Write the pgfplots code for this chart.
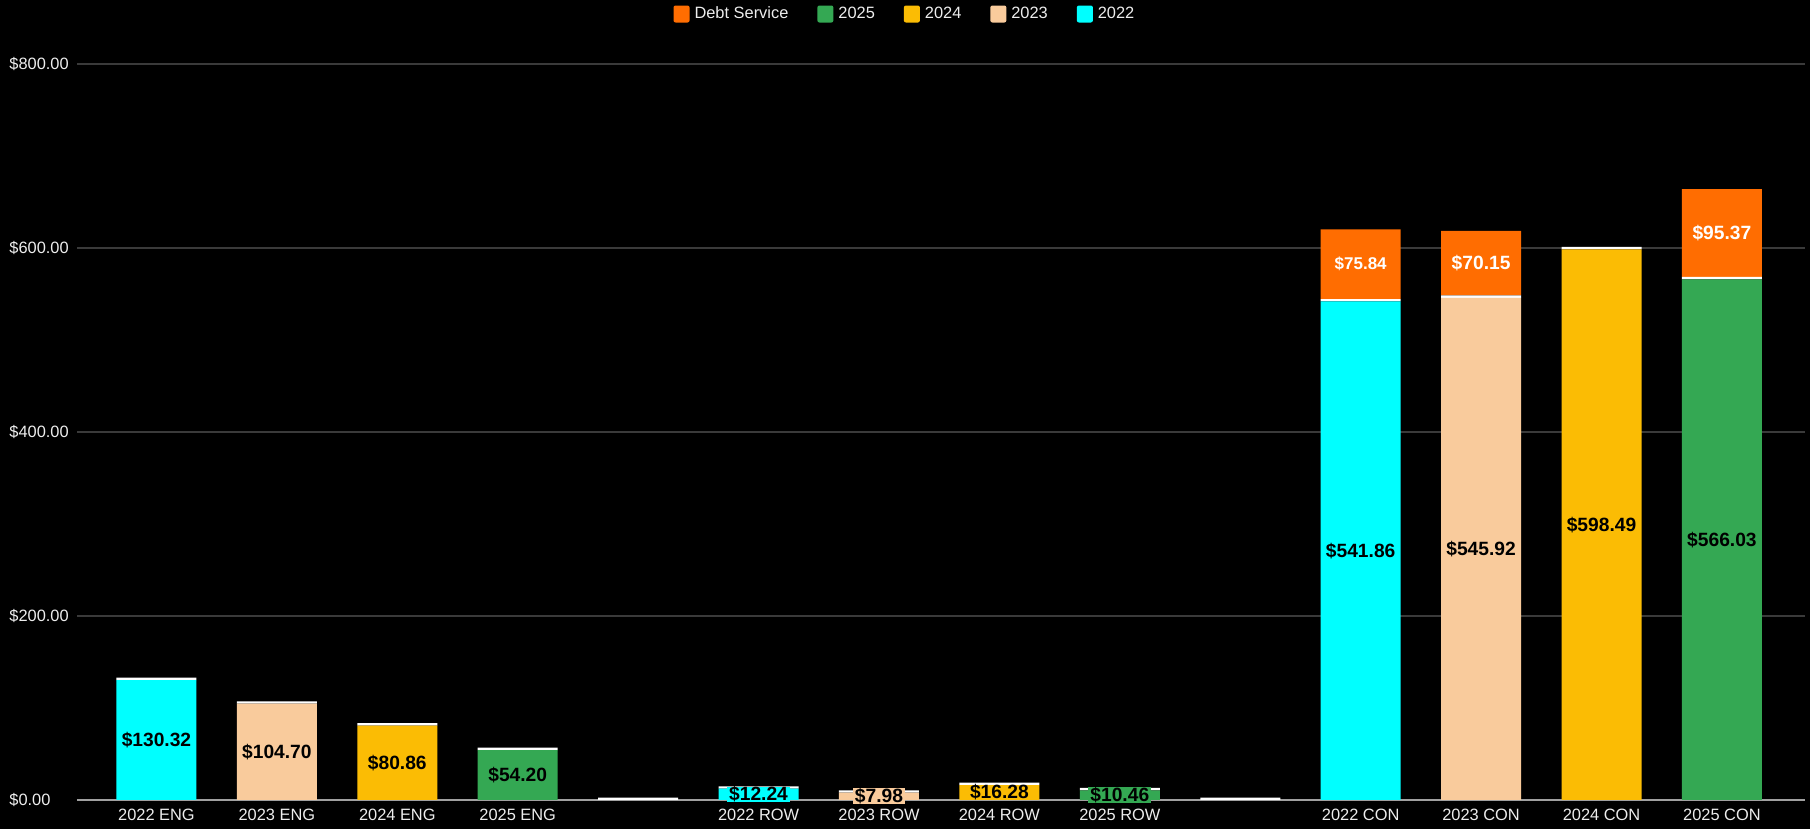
\documentclass[border=0pt]{standalone}
\usepackage{pgfplots}
\pgfplotsset{compat=1.18}
\usepackage{fontspec}
\setmainfont{Liberation Sans}
\definecolor{c22}{HTML}{00FFFF}
\definecolor{c23}{HTML}{F9CB9C}
\definecolor{c24}{HTML}{FBBC04}
\definecolor{c25}{HTML}{34A853}
\definecolor{cds}{HTML}{FF6D01}
\definecolor{gridc}{HTML}{3A3A3A}
\definecolor{basec}{HTML}{A0A0A0}
\definecolor{txt}{HTML}{EDEDED}
\begin{document}
\begin{tikzpicture}
\fill[black] (-38.5pt,-14.5pt) rectangle (866.5pt,400pt);
\begin{axis}[
  at={(0,0)}, anchor=south west,
  scale only axis, width=864pt, height=368pt,
  ybar stacked, bar width=40pt,
  xmin=-0.66, xmax=13.69, ymin=0, ymax=800,
  xtick={0,...,13},
  xticklabels={2022 ENG,2023 ENG,2024 ENG,2025 ENG,,2022 ROW,2023 ROW,2024 ROW,2025 ROW,,2022 CON,2023 CON,2024 CON,2025 CON},
  ytick={0,200,400,600,800},
  yticklabel={\$\pgfmathprintnumber[fixed,fixed zerofill,precision=2]{\tick}},
  /pgf/number format/assume math mode=true,
  yticklabel style={anchor=west, inner sep=0pt, xshift=-34pt, font=\fontsize{8.2}{10}\selectfont, text=txt},
  xticklabel style={font=\fontsize{8.2}{10}\selectfont, text=txt, yshift=-1pt},
  ymajorgrids, grid style={gridc, line width=0.6pt},
  extra y ticks={0}, extra y tick labels={},
  extra y tick style={grid style={basec, line width=0.9pt}},
  axis line style={draw=none}, tick style={draw=none},
  reverse legend,
  legend columns=-1,
  legend style={at={(0.48,1)}, anchor=center, yshift=25pt, draw=none, fill=none,
    text=txt, font=\fontsize{8.2}{10}\selectfont,
    /tikz/every even column/.append style={column sep=12pt},
    nodes={inner xsep=2.5pt}},
  legend image code/.code={\fill[#1, draw=none, rounded corners=1pt] (0pt,-4.25pt) rectangle (8pt,4.25pt);},
  point meta=explicit symbolic,
  nodes near coords,
  every node near coord/.append style={anchor=center, inner xsep=1pt, inner ysep=0pt,
    font=\fontsize{9.6}{11}\selectfont\bfseries},
]
\addplot[fill=c22, draw=none, every node near coord/.append style={fill=c22, text=black}]
  coordinates {(0,130.32)[\$130.32] (1,0)[] (2,0)[] (3,0)[] (4,0)[] (5,12.24)[\$12.24] (6,0)[] (7,0)[] (8,0)[] (9,0)[] (10,541.86)[\$541.86] (11,0)[] (12,0)[] (13,0)[]};
\addlegendentry{2022}
\addplot[fill=c23, draw=none, every node near coord/.append style={fill=c23, text=black}]
  coordinates {(0,0)[] (1,104.70)[\$104.70] (2,0)[] (3,0)[] (4,0)[] (5,0)[] (6,7.98)[\$7.98] (7,0)[] (8,0)[] (9,0)[] (10,0)[] (11,545.92)[\$545.92] (12,0)[] (13,0)[]};
\addlegendentry{2023}
\addplot[fill=c24, draw=none, every node near coord/.append style={fill=c24, text=black}]
  coordinates {(0,0)[] (1,0)[] (2,80.86)[\$80.86] (3,0)[] (4,0)[] (5,0)[] (6,0)[] (7,16.28)[\$16.28] (8,0)[] (9,0)[] (10,0)[] (11,0)[] (12,598.49)[\$598.49] (13,0)[]};
\addlegendentry{2024}
\addplot[fill=c25, draw=none, every node near coord/.append style={fill=c25, text=black}]
  coordinates {(0,0)[] (1,0)[] (2,0)[] (3,54.20)[\$54.20] (4,0)[] (5,0)[] (6,0)[] (7,0)[] (8,10.46)[\$10.46] (9,0)[] (10,0)[] (11,0)[] (12,0)[] (13,566.03)[\$566.03]};
\addlegendentry{2025}
\addplot[fill=white, draw=none, forget plot]
  coordinates {(0,2.6)[] (1,2.6)[] (2,2.6)[] (3,2.6)[] (4,2.6)[] (5,2.6)[] (6,2.6)[] (7,2.6)[] (8,2.6)[] (9,2.6)[] (10,2.6)[] (11,2.6)[] (12,2.6)[] (13,2.6)[]};
\addplot[fill=cds, draw=none, every node near coord/.append style={text=white}]
  coordinates {(0,0)[] (1,0)[] (2,0)[] (3,0)[] (4,0)[] (5,0)[] (6,0)[] (7,0)[] (8,0)[] (9,0)[] (10,75.84)[\fontsize{8.5}{10}\selectfont\$75.84] (11,70.15)[\$70.15] (12,0)[] (13,95.37)[\$95.37]};
\addlegendentry{Debt Service}
\end{axis}
\pgfresetboundingbox
\useasboundingbox (-38.5pt,-14.5pt) rectangle (866.5pt,400pt);
\end{tikzpicture}
\end{document}
